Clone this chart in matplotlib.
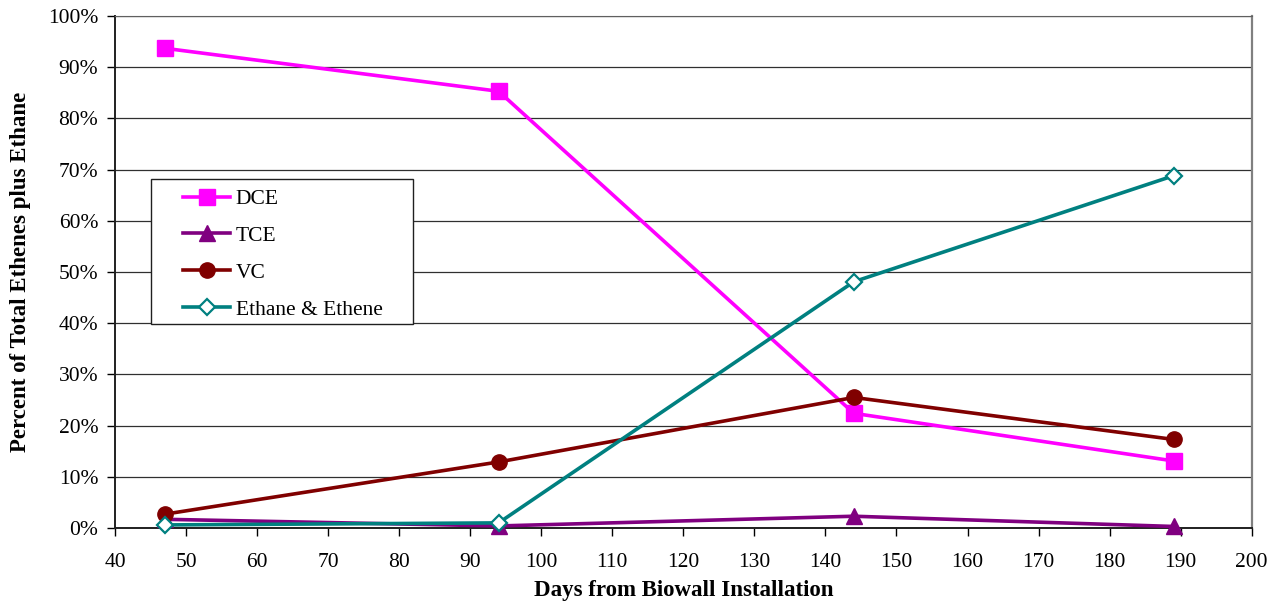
import numpy as np
import matplotlib.pyplot as plt
from matplotlib.patches import Rectangle
from matplotlib.ticker import FuncFormatter

plt.rcParams['font.family'] = ['Liberation Serif', 'DejaVu Serif']

days = [47, 94, 144, 189]
dce = [93.7, 85.3, 22.4, 13.1]
tce = [1.7, 0.4, 2.3, 0.3]
vc = [2.7, 12.9, 25.5, 17.3]
ethane_ethene = [0.6, 1.0, 48.1, 68.8]

fig = plt.figure(figsize=(12.83, 6.09), dpi=100)
ax = fig.add_axes([0.0896, 0.133, 0.886, 0.8407])

ax.plot(days, dce, color="#ff00ff", lw=2.6, marker="s", ms=11, label="DCE", zorder=3, clip_on=False)
ax.plot(days, tce, color="#800080", lw=2.6, marker="^", ms=11, label="TCE", zorder=3, clip_on=False)
ax.plot(days, vc, color="#800000", lw=2.6, marker="o", ms=11, label="VC", zorder=3, clip_on=False)
ax.plot(days, ethane_ethene, color="#008080", lw=2.6, marker="D", ms=8,
        mfc="white", mew=1.6, label="Ethane & Ethene", zorder=4, clip_on=False)

ax.set_xlim(40, 200)
ax.set_ylim(0, 100)
ax.set_xticks(np.arange(40, 201, 10))
ax.set_yticks(np.arange(0, 101, 10))
ax.yaxis.set_major_formatter(FuncFormatter(lambda v, p: "%d%%" % v))
ax.grid(axis="y", color="#303030", lw=0.9)
ax.set_axisbelow(True)

for s in ["left", "bottom"]:
    ax.spines[s].set_color("#202020")
    ax.spines[s].set_linewidth(1.4)
ax.spines["right"].set_color("#808080")
ax.spines["right"].set_linewidth(1.6)
ax.spines["top"].set_color("#606060")
ax.tick_params(axis="y", direction="out", length=6, labelsize=15.5, width=1, pad=6)
ax.tick_params(axis="x", direction="out", length=6, labelsize=15.5, width=1, pad=12)

ax.set_xlabel("Days from Biowall Installation", fontsize=16.5, fontweight="bold", labelpad=6)
ax.set_ylabel("Percent of Total Ethenes plus Ethane", fontsize=16.5, fontweight="bold", labelpad=12)

# legend box drawn separately so the padding matches the original
ax.add_patch(Rectangle((151 / 1283, 1 - 324 / 609), 262 / 1283, 145 / 609,
                       transform=fig.transFigure, fill=True, fc="white",
                       ec="#202020", lw=1.0, zorder=5, clip_on=False))
leg = ax.legend(loc="upper left", bbox_to_anchor=(183 / 1283, 1 - 189 / 609),
                bbox_transform=fig.transFigure, fontsize=15.5, frameon=False,
                borderpad=0, labelspacing=0.78, handlelength=2.2,
                handletextpad=0.25, borderaxespad=0)
leg.set_zorder(6)

fig.savefig("out.png", dpi=100)
